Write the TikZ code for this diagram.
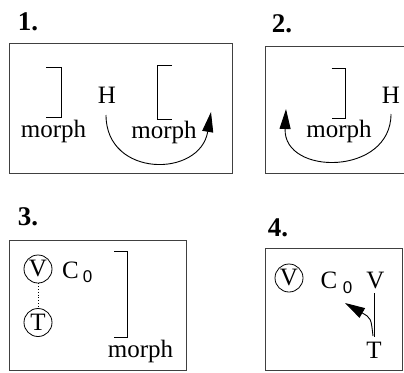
\documentclass[tikz,border=0pt]{standalone}
\usepackage{fontspec}
\setmainfont{Liberation Serif}
\newfontfamily\subsf{Liberation Sans}
\usetikzlibrary{arrows.meta}
\begin{document}
\begin{tikzpicture}[x=1pt,y=-1pt,
  panel/.style={draw=black!75, line width=1pt},
  txt/.style={inner sep=0, anchor=base, font=\fontsize{25}{30}\selectfont},
  num/.style={inner sep=0, anchor=base, font=\fontsize{27}{32}\selectfont\bfseries},
  sub/.style={inner sep=0, anchor=base, font=\fontsize{17}{20}\selectfont\subsf},
  brk/.style={line width=0.9pt},
  circ/.style={circle, draw, line width=0.8pt, minimum size=28pt, inner sep=0, font=\fontsize{25}{30}\selectfont},
  arr/.style={line width=0.9pt, -{Triangle[length=20pt,width=11pt]}}]
\useasboundingbox (0,0) rectangle (404,372);
% panel labels
\node[num] (n1) at (28,30) {1.};
\node[num] (n2) at (282,32) {2.};
\node[num] (n3) at (28,225) {3.};
\node[num] (n4) at (278,236) {4.};
% boxes
\draw[panel] (9,43) rectangle (232,173);
\draw[panel] (404,46) -- (265,46) -- (265,173) -- (404,173);
\draw[panel] (9,240) rectangle (186,370);
\draw[panel] (265,248) rectangle (402,370);
% panel 1
\draw[brk] (46,67) -| (61,117) -- (46,117);
\node[txt] (m1a) at (53.5,137) {morph};
\node[txt] (h1) at (107,103) {H};
\draw[brk] (172,65) -| (157,119) -- (172,119);
\node[txt] (m1b) at (164,138) {morph};
\coordinate (a1s) at (106,115);
\coordinate (a1e) at (211,112);
\draw[arr] (a1s) .. controls (106,178) and (200,178) .. (a1e);
% panel 2
\draw[brk] (331.7,68) -| (345.7,118) -- (331.7,118);
\node[txt] (h2) at (391,103) {H};
\node[txt] (m2) at (339,137) {morph};
\coordinate (a2s) at (391,114);
\coordinate (a2e) at (286,109);
\draw[arr] (a2s) .. controls (391,176) and (283,176) .. (a2e);
% panel 3
\node[circ] (v3) at (38,269) {V};
\node[txt] (c3) at (70.5,278) {C};
\node[sub] (s3) at (87.5,282) {0};
\node[circ] (t3) at (38,322.5) {T};
\draw[dotted, line width=0.8pt] (v3) -- (t3);
\draw[brk] (114,251) -| (127,337) -- (114,337);
\node[txt] (m3) at (140.5,357) {morph};
% panel 4
\node[circ] (v4) at (289,278) {V};
\node[txt] (c4) at (329,288) {C};
\node[sub] (s4) at (347.5,293) {0};
\node[txt] (vv4) at (375.5,288) {V};
\node[txt] (t4) at (374,358) {T};
\coordinate (l4a) at (374,293);
\coordinate (l4b) at (374,337);
\draw[brk] (l4a) -- (l4b);
\coordinate (a4s) at (373,336);
\coordinate (a4e) at (345,303);
\draw[arr] (a4s) .. controls (371,318) .. (a4e);
\end{tikzpicture}
\end{document}
